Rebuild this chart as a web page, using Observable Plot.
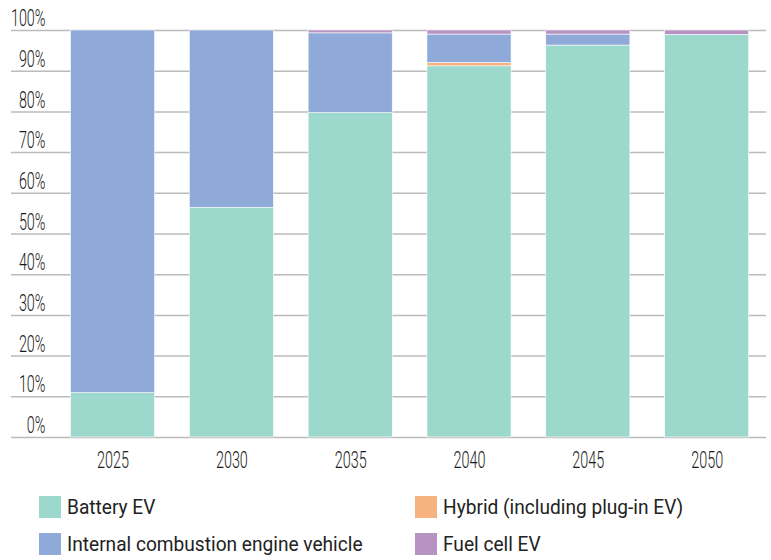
<!DOCTYPE html>
<html><head><meta charset="utf-8">
<script src="https://cdn.jsdelivr.net/npm/d3@7"></script>
<script src="https://cdn.jsdelivr.net/npm/@observablehq/plot@0.6"></script>
<style>
body{margin:0;background:#fff;font-family:Roboto,sans-serif;}
#legend{display:grid;grid-template-columns:376px 340px;row-gap:15px;margin-left:39px;margin-top:16px}
.item{display:flex;align-items:center;height:22px}
.sw{width:22px;height:22px;margin-right:6px;flex:none}
.lab{font-size:21px;font-weight:400;color:#222;transform:scaleX(0.91);transform-origin:left center;white-space:nowrap}
</style></head>
<body>
<div id="chart"></div>
<div id="legend"></div>
<script>
const years = ["2025","2030","2035","2040","2045","2050"];
const types = ["Battery EV","Hybrid (including plug-in EV)","Internal combustion engine vehicle","Fuel cell EV"];
const colors = ["#9dd8cc","#f6b27f","#8faad8","#b793c4"];
const bev = [10.9, 56.4, 79.7, 91.2, 96.3, 98.9];
const hybrid = [0, 0, 0, 0.8, 0, 0];
const ice = [89.1, 43.6, 19.6, 7.0, 2.7, 0];
const fuel = [0, 0, 0.7, 1.0, 1.0, 1.1];
const yTicks = [0,10,20,30,40,50,60,70,80,90,100];

const series = [bev, hybrid, ice, fuel];
const data = [];
years.forEach((yr, i) => series.forEach((s, k) => data.push({year: yr, type: types[k], value: s[i]})));

const chart = Plot.plot({
  width: 771, height: 480,
  marginTop: 30, marginBottom: 43, marginLeft: 11, marginRight: 5,
  style: {fontFamily: "Roboto, sans-serif", fontWeight: 300, color: "#1a1a1a", background: "#fff"},
  x: {domain: years, range: [35.8, 783.4], padding: 0.292, round: false, label: null},
  y: {domain: [0, 100], label: null},
  color: {domain: types, range: colors},
  marks: [
    Plot.ruleY(yTicks, {stroke: "#bbb", strokeWidth: 1.5}),
    Plot.barY(data, {x: "year", y: "value", fill: "type", order: types, stroke: "#fff", strokeWidth: 0.6}),
    Plot.axisY({ticks: yTicks, tickSize: 0, tickPadding: -34, tickFormat: d => d + "%", fontSize: 24, dy: -12, label: null}),
    Plot.axisX({tickSize: 0, tickPadding: 13, fontSize: 24, label: null})
  ]
});
chart.querySelectorAll('[aria-label="y-axis tick label"] text, [aria-label="x-axis tick label"] text').forEach(t => {
  t.setAttribute("transform", (t.getAttribute("transform") || "") + " scale(0.6,1)");
});
document.getElementById("chart").appendChild(chart);

const lg = document.getElementById("legend");
types.forEach((name, k) => {
  const it = document.createElement("div"); it.className = "item";
  const sw = document.createElement("div"); sw.className = "sw"; sw.style.background = colors[k];
  const lab = document.createElement("span"); lab.className = "lab"; lab.textContent = name;
  it.appendChild(sw); it.appendChild(lab); lg.appendChild(it);
});
</script>
</body></html>
